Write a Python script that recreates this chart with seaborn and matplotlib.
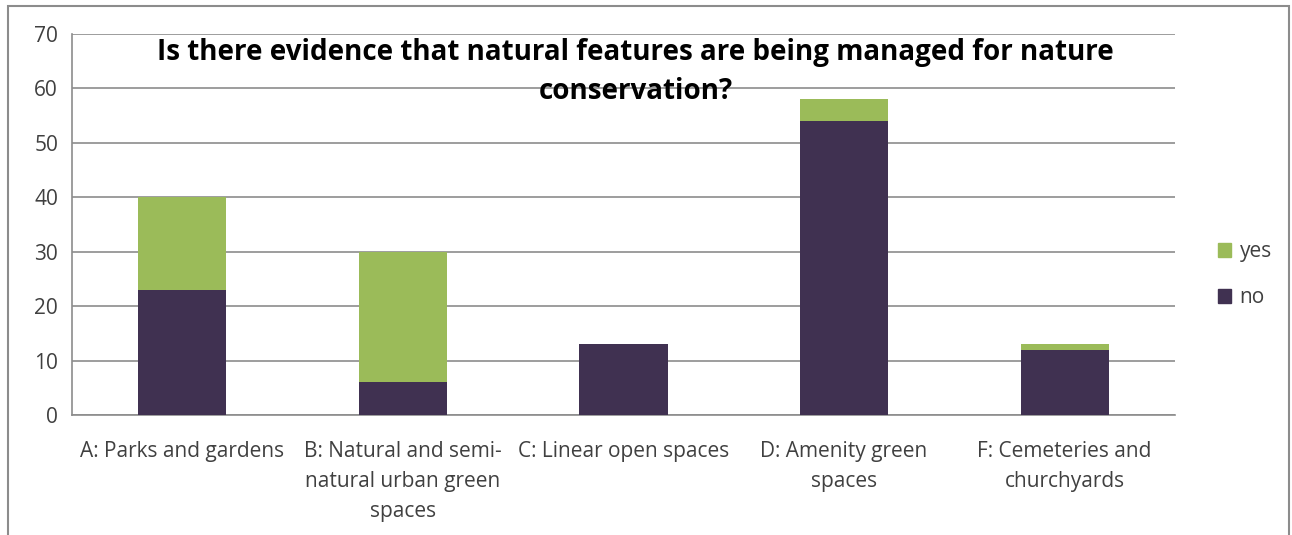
import matplotlib
matplotlib.use("Agg")
import matplotlib.pyplot as plt
import seaborn as sns
import pandas as pd
from matplotlib.patches import Rectangle

# Data
categories = [
    "A: Parks and gardens",
    "B: Natural and semi-\nnatural urban green\nspaces",
    "C: Linear open spaces",
    "D: Amenity green\nspaces",
    "F: Cemeteries and\nchurchyards",
]
no_vals = [23, 6, 13, 54, 12]
yes_vals = [17, 24, 0, 4, 1]

green = "#9BBB59"
purple = "#403151"
grid_col = "#8C8C8C"
text_col = "#404040"

df = pd.DataFrame({"category": categories, "no": no_vals, "yes": yes_vals})
df["total"] = df["no"] + df["yes"]

sns.set_style("white")
plt.rcParams["font.family"] = ["Open Sans", "DejaVu Sans"]

fig = plt.figure(figsize=(12.92, 5.35), dpi=100)
ax = fig.add_axes([0.0557, 0.2243, 0.8537, 0.7121])

# stacked bars: totals (yes on top) then "no" over them
sns.barplot(data=df, x="category", y="total", color=green, width=0.4,
            saturation=1, ax=ax, zorder=3, linewidth=0)
sns.barplot(data=df, x="category", y="no", color=purple, width=0.4,
            saturation=1, ax=ax, zorder=4, linewidth=0)

ax.set_ylim(0, 70)
ax.set_xlim(-0.5, len(categories) - 0.5)
ax.set_yticks(range(0, 71, 10))
ax.yaxis.grid(True, color=grid_col, linewidth=1.2, zorder=0)
ax.set_axisbelow(True)
ax.set_xlabel("")
ax.set_ylabel("")

for s in ["top", "right"]:
    ax.spines[s].set_visible(False)
for s in ["left", "bottom"]:
    ax.spines[s].set_color(grid_col)
    ax.spines[s].set_linewidth(1.2)

ax.tick_params(axis="y", length=6, width=1.2, color=grid_col, labelsize=15,
               labelcolor=text_col, pad=4)
ax.tick_params(axis="x", which="major", length=0, labelsize=15,
               labelcolor=text_col, pad=19)
for lbl in ax.get_xticklabels():
    lbl.set_linespacing(1.55)
ax.set_xticks([i - 0.5 for i in range(len(categories) + 1)], minor=True)
ax.tick_params(axis="x", which="minor", length=6, width=1.2, color=grid_col)

ax.text(0.511, 0.99,
        "Is there evidence that natural features are being managed for nature\nconservation?",
        transform=ax.transAxes, ha="center", va="top", fontsize=20,
        fontweight="bold", color="black", linespacing=1.45, zorder=6)

handles = [Rectangle((0, 0), 1, 1, color=green),
           Rectangle((0, 0), 1, 1, color=purple)]
fig.legend(handles, ["yes", "no"], loc="center left",
           bbox_to_anchor=(0.928, 0.487), frameon=False, fontsize=15,
           handlelength=0.65, handleheight=0.65, handletextpad=0.4,
           labelspacing=1.2, labelcolor=text_col)

# chart area border
fig.patches.append(Rectangle((0.006, -0.01), 0.992, 0.999,
                             transform=fig.transFigure, fill=False,
                             edgecolor="#8C8C8C", linewidth=1.5))

fig.savefig("out.png", dpi=100)
plt.close(fig)
